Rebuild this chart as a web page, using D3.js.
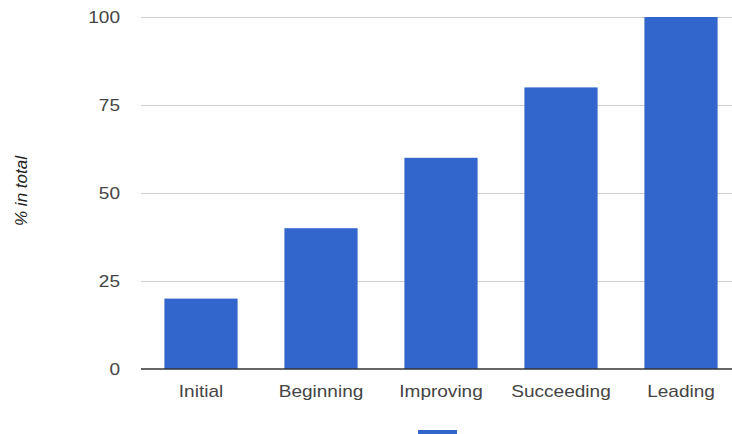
<!DOCTYPE html>
<html>
<head>
<meta charset="utf-8">
<script src="https://cdn.jsdelivr.net/npm/d3@7"></script>
<style>
  body { margin: 0; background: #fff; }
  text { font-family: "Liberation Sans", Arial, sans-serif; }
</style>
</head>
<body>
<svg id="chart" width="732" height="434"></svg>
<script>
var categories = ["Initial", "Beginning", "Improving", "Succeeding", "Leading"];
var values = [20, 40, 60, 80, 100];
var yTicks = [0, 25, 50, 75, 100];
var yTitle = "% in total";

var svg = d3.select("#chart");

// plot area runs off the right edge, like the reference
var plotLeft = 141, plotRight = 741, plotTop = 17, plotBottom = 369;
//the reference text looks a little stretched sideways
var stretch = 1.12;

var x = d3.scaleBand()
	.domain(categories)
	.range([plotLeft, plotRight])
	.paddingInner(0.39)
	.paddingOuter(0.195);

var y = d3.scaleLinear()
	.domain([0, 100])
	.range([plotBottom, plotTop]);

//gridlines
svg.append("g")
	.selectAll("line")
	.data(yTicks.filter(function(d) { return d > 0; }))
	.enter().append("line")
	.attr("x1", plotLeft)
	.attr("x2", 732)
	.attr("y1", function(d) { return y(d) + 0.5; })
	.attr("y2", function(d) { return y(d) + 0.5; })
	.style("stroke", "#cccccc")
	.style("stroke-width", 1);

//y tick labels
svg.append("g")
	.selectAll("text")
	.data(yTicks)
	.enter().append("text")
	.attr("transform", function(d) { return "translate(120," + y(d) + ") scale(" + stretch + ",1)"; })
	.attr("dy", "0.36em")
	.attr("text-anchor", "end")
	.style("font-size", "17px")
	.style("fill", "#444")
	.text(function(d) { return d; });

//bars
svg.append("g")
	.selectAll("rect")
	.data(values)
	.enter().append("rect")
	.attr("x", function(d, i) { return x(categories[i]); })
	.attr("width", x.bandwidth())
	.attr("y", function(d) { return y(d); })
	.attr("height", function(d) { return y(0) - y(d); })
	.style("fill", "#3366cc");

//baseline
svg.append("line")
	.attr("x1", plotLeft)
	.attr("x2", 732)
	.attr("y1", y(0))
	.attr("y2", y(0))
	.style("stroke", "#333")
	.style("stroke-width", 1.5);

//x labels
svg.append("g")
	.selectAll("text")
	.data(categories)
	.enter().append("text")
	.attr("transform", function(d) { return "translate(" + (x(d) + x.bandwidth() / 2) + ",397) scale(" + stretch + ",1)"; })
	.attr("text-anchor", "middle")
	.style("font-size", "17px")
	.style("fill", "#444")
	.text(function(d) { return d; });

//axis title
svg.append("text")
	.attr("transform", "translate(27,191) rotate(-90)")
	.attr("text-anchor", "middle")
	.style("font-size", "17px")
	.style("font-style", "italic")
	.style("fill", "#222")
	.text(yTitle);

//legend swatch, cut off at the bottom
svg.append("rect")
	.attr("x", 418)
	.attr("y", 430)
	.attr("width", 39)
	.attr("height", 10)
	.style("fill", "#3366cc");
</script>
</body>
</html>
